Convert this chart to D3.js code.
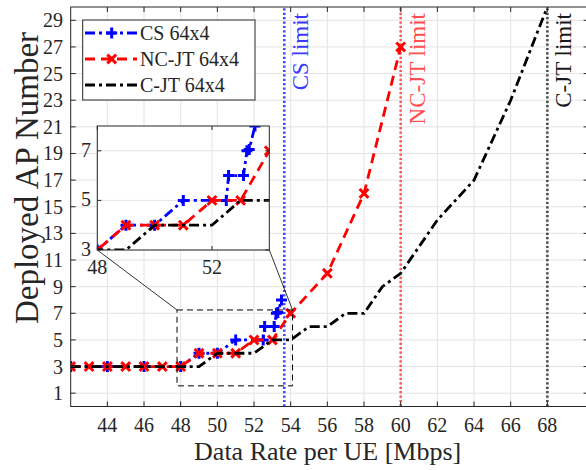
<!DOCTYPE html>
<html><head><meta charset="utf-8">
<script src="https://cdn.jsdelivr.net/npm/d3@7"></script>
<style>
body{margin:0;background:#fff}
svg{display:block}
text{font-family:"Liberation Serif","Times New Roman",serif;fill:#262626}
</style>
</head><body>
<svg id="c" width="586" height="470"></svg>
<script>
// ---------- data ----------
const csX  = [42,44,46,48,49,50,51,52.5,52.58,53.1,53.22,53.3,53.5];
const csY  = [3,3,3,3,4,4,5,5,6,6,7,7.05,8];
const ncX  = [42,43,44,45,46,47,48,49,50,51,52,53,54,56,58,60];
const ncY  = [3,3,3,3,3,3,3,4,4,4,5,5,7,10,16,27];
const cjX  = [42,43,44,45,46,47,48,49,50,52,53,54,55,56,57,58,59,60,62,64,66,68];
const cjY  = [3,3,3,3,3,3,3,3,4,4,5,5,6,6,7,7,9,10,14,17,23,30];
const seriesNames = ["CS 64x4","NC-JT 64x4","C-JT 64x4"];
const limitX = [53.65,60,68];
const limitNames = ["CS limit","NC-JT limit","C-JT limit"];
const xTicks = [44,46,48,50,52,54,56,58,60,62,64,66,68];
const yTicks = [1,3,5,7,9,11,13,15,17,19,21,23,25,27,29];
const insetXTicks = [48,52];
const insetYTicks = [3,5,7];
const zoomBoxX = [47.8,54.1];
const zoomBoxY = [1.55,7.25];

// ---------- styles ----------
const colors = ["#0000ff","#ff0000","#000000"];
const limitColors = ["#4646ff","#ff5a5a","#4d4d4d"];
const limitTextColors = ["#3a3aff","#ff5050","#1a1a1a"];
const dashes = ["10,4,3,4","10,6","10,4,3,4"];
const markers = ["plus","cross",null];

const svg = d3.select("#c");
const x = d3.scaleLinear().domain([42,70.25]).range([70.7,588.6]);
const y = d3.scaleLinear().domain([0,30]).range([406.5,7]);

const series = [
  {xs:csX, ys:csY},
  {xs:ncX, ys:ncY},
  {xs:cjX, ys:cjY}
].map((s,i)=>({name:seriesNames[i], pts:s.xs.map((v,j)=>[v,s.ys[j]]), color:colors[i], dash:dashes[i], marker:markers[i]}));

const defs = svg.append("defs");
defs.append("clipPath").attr("id","mainClip").append("rect")
  .attr("x",x(42)).attr("y",y(30)).attr("width",x(70.25)-x(42)).attr("height",y(0)-y(30));

// grid
const g = svg.append("g");
g.selectAll(".gx").data(xTicks).join("line")
  .attr("x1",d=>x(d)).attr("x2",d=>x(d)).attr("y1",y(0)).attr("y2",y(30))
  .attr("stroke","#e3e3e3").attr("stroke-width",1);
g.selectAll(".gy").data(yTicks).join("line")
  .attr("y1",d=>y(d)).attr("y2",d=>y(d)).attr("x1",x(42)).attr("x2",x(70.25))
  .attr("stroke","#e3e3e3").attr("stroke-width",1);

function drawMarker(sel, type, px, py, color, s){
  if(type==="plus"){
    sel.append("path").attr("d",`M${px-s},${py}H${px+s}M${px},${py-s}V${py+s}`)
      .attr("stroke",color).attr("stroke-width",3).attr("fill","none");
  } else if(type==="cross"){
    const t=s*0.8;
    sel.append("path").attr("d",`M${px-t},${py-t}L${px+t},${py+t}M${px-t},${py+t}L${px+t},${py-t}`)
      .attr("stroke",color).attr("stroke-width",3).attr("fill","none");
  }
}

function drawSeries(parent, xs, ys, clipId){
  const layer = parent.append("g").attr("clip-path",`url(#${clipId})`);
  const line = d3.line().x(d=>xs(d[0])).y(d=>ys(d[1]));
  series.forEach(s=>{
    layer.append("path").attr("d",line(s.pts)).attr("fill","none")
      .attr("stroke",s.color).attr("stroke-width",2.8).attr("stroke-dasharray",s.dash);
    if(s.marker){
      s.pts.forEach(p=>drawMarker(layer,s.marker,xs(p[0]),ys(p[1]),s.color,5.5));
    }
  });
}

// limit lines
const lim = svg.append("g");
limitX.forEach((v,i)=>{
  lim.append("line").attr("x1",x(v)).attr("x2",x(v)).attr("y1",y(0)).attr("y2",y(30))
    .attr("stroke",limitColors[i]).attr("stroke-width",2.6).attr("stroke-dasharray","2.2,2.2");
  lim.append("text").attr("transform",`translate(${x(v)+24},${y(30)+6}) rotate(-90)`)
    .attr("text-anchor","end").attr("font-size",23).style("fill",limitTextColors[i])
    .text(limitNames[i]);
});

drawSeries(svg, x, y, "mainClip");

// axes frame & ticks
const ax = svg.append("g").attr("stroke","#262626").attr("stroke-width",1);
ax.append("rect").attr("x",x(42)).attr("y",y(30)).attr("width",x(70.25)-x(42)).attr("height",y(0)-y(30)).attr("fill","none");
xTicks.forEach(t=>{
  ax.append("line").attr("x1",x(t)).attr("x2",x(t)).attr("y1",y(0)).attr("y2",y(0)-5);
  ax.append("line").attr("x1",x(t)).attr("x2",x(t)).attr("y1",y(30)).attr("y2",y(30)+5);
});
yTicks.forEach(t=>{
  ax.append("line").attr("y1",y(t)).attr("y2",y(t)).attr("x1",x(42)).attr("x2",x(42)+5);
  ax.append("line").attr("y1",y(t)).attr("y2",y(t)).attr("x1",x(70.25)).attr("x2",x(70.25)-5);
});
svg.append("g").selectAll("text").data(xTicks).join("text")
  .attr("x",d=>x(d)).attr("y",432).attr("text-anchor","middle").attr("font-size",20).text(d=>d);
svg.append("g").selectAll("text").data(yTicks).join("text")
  .attr("x",63).attr("y",d=>y(d)+7).attr("text-anchor","end").attr("font-size",20).text(d=>d);

svg.append("text").attr("x",(x(42)+x(70.25))/2 - 2).attr("y",460).attr("text-anchor","middle")
  .attr("font-size",26).text("Data Rate per UE [Mbps]");
svg.append("text").attr("transform",`translate(38,178) rotate(-90)`).attr("text-anchor","middle")
  .attr("font-size",33).text("Deployed AP Number");

// zoom box and connectors
svg.append("rect").attr("x",x(zoomBoxX[0])).attr("y",y(zoomBoxY[1]))
  .attr("width",x(zoomBoxX[1])-x(zoomBoxX[0])).attr("height",y(zoomBoxY[0])-y(zoomBoxY[1]))
  .attr("fill","none").attr("stroke","#000").attr("stroke-width",1).attr("stroke-dasharray","6,4");

// inset
const ix = d3.scaleLinear().domain([48,54]).range([97.3,269.3]);
const iy = d3.scaleLinear().domain([3,8]).range([250,126]);
svg.append("line").attr("x1",ix(48)).attr("y1",iy(3)).attr("x2",x(zoomBoxX[0])).attr("y2",y(zoomBoxY[1]))
  .attr("stroke","#000").attr("stroke-width",0.8);
svg.append("line").attr("x1",ix(54)).attr("y1",iy(3)).attr("x2",x(zoomBoxX[1])).attr("y2",y(zoomBoxY[1]))
  .attr("stroke","#000").attr("stroke-width",0.8);

defs.append("clipPath").attr("id","insetClip").append("rect")
  .attr("x",ix(48)).attr("y",iy(8)).attr("width",ix(54)-ix(48)).attr("height",iy(3)-iy(8));
const ig = svg.append("g");
ig.append("rect").attr("x",ix(48)).attr("y",iy(8)).attr("width",ix(54)-ix(48)).attr("height",iy(3)-iy(8)).attr("fill","#fff");
ig.selectAll(".igx").data(insetXTicks).join("line")
  .attr("x1",d=>ix(d)).attr("x2",d=>ix(d)).attr("y1",iy(3)).attr("y2",iy(8)).attr("stroke","#e3e3e3");
ig.selectAll(".igy").data(insetYTicks).join("line")
  .attr("y1",d=>iy(d)).attr("y2",d=>iy(d)).attr("x1",ix(48)).attr("x2",ix(54)).attr("stroke","#e3e3e3");
drawSeries(ig, ix, iy, "insetClip");
const iax = ig.append("g").attr("stroke","#262626").attr("stroke-width",1);
iax.append("rect").attr("x",ix(48)).attr("y",iy(8)).attr("width",ix(54)-ix(48)).attr("height",iy(3)-iy(8)).attr("fill","none");
insetXTicks.forEach(t=>{
  iax.append("line").attr("x1",ix(t)).attr("x2",ix(t)).attr("y1",iy(3)).attr("y2",iy(3)-4);
  iax.append("line").attr("x1",ix(t)).attr("x2",ix(t)).attr("y1",iy(8)).attr("y2",iy(8)+4);
});
insetYTicks.forEach(t=>{
  iax.append("line").attr("y1",iy(t)).attr("y2",iy(t)).attr("x1",ix(48)).attr("x2",ix(48)+4);
  iax.append("line").attr("y1",iy(t)).attr("y2",iy(t)).attr("x1",ix(54)).attr("x2",ix(54)-4);
});
ig.selectAll(".itx").data(insetXTicks).join("text")
  .attr("x",d=>ix(d)).attr("y",274).attr("text-anchor","middle").attr("font-size",20).text(d=>d);
ig.selectAll(".ity").data(insetYTicks).join("text")
  .attr("x",91).attr("y",d=>iy(d)+6).attr("text-anchor","end").attr("font-size",20).text(d=>d);

// legend
const lg = svg.append("g");
lg.append("rect").attr("x",82.7).attr("y",20).attr("width",172.3).attr("height",80)
  .attr("fill","#fff").attr("stroke","#262626").attr("stroke-width",1);
series.forEach((s,i)=>{
  const ly = 33 + i*26;
  lg.append("line").attr("x1",85).attr("x2",137).attr("y1",ly).attr("y2",ly)
    .attr("stroke",s.color).attr("stroke-width",2.8).attr("stroke-dasharray",s.dash);
  if(s.marker) drawMarker(lg,s.marker,111.7,ly,s.color,5.5);
  lg.append("text").attr("x",140).attr("y",ly+7).attr("font-size",20).text(s.name);
});
</script>
</body></html>
